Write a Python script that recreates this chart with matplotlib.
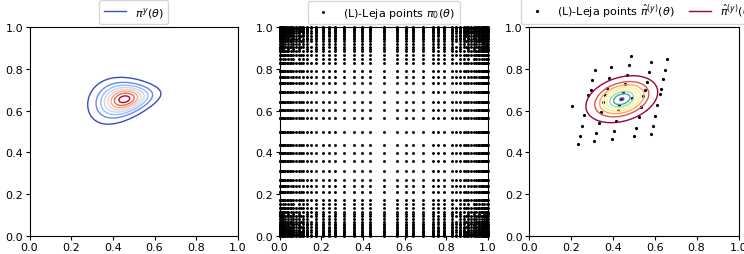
import numpy as np
import matplotlib
matplotlib.use("Agg")
import matplotlib.pyplot as plt

# ---------------- data ----------------
# left panel: skewed posterior pi^y(theta) (mode, spreads, tilt, taper)
post_mode = (0.455, 0.655)
post_sx, post_sy = 0.074, 0.044
post_tilt = 0.15
post_taper = 2.0
post_levels = [0.06, 0.186, 0.311, 0.437, 0.563, 0.689, 0.814, 0.94]

# middle panel: 1D Leja nodes on [0,1] (in Leja order) and total-degree bound
leja_nodes = [0.5, 1.0, 0.0, 0.789, 0.211, 0.933, 0.067, 0.641, 0.359, 0.983,
              0.017, 0.868, 0.132, 0.565, 0.435, 0.735, 0.265, 0.958, 0.042,
              0.905, 0.095, 0.996, 0.004, 0.69, 0.31, 0.827, 0.173, 0.605,
              0.395, 0.972, 0.028, 0.885, 0.115, 0.762, 0.238, 0.945, 0.055,
              0.99, 0.01, 0.92, 0.08, 0.978, 0.022, 0.848, 0.152, 0.965,
              0.035, 0.993, 0.007, 0.951, 0.049, 0.895, 0.105, 0.987, 0.013]
total_degree = 80

# right panel: mapped Leja points
pts_x = [0.486, 0.659, 0.584, 0.313, 0.392, 0.476, 0.648, 0.573, 0.303, 0.382,
         0.467, 0.640, 0.562, 0.294, 0.370, 0.456, 0.630, 0.552, 0.283, 0.362,
         0.449, 0.492, 0.544, 0.624, 0.441, 0.354, 0.430, 0.533, 0.611, 0.203,
         0.344, 0.427, 0.524, 0.603, 0.263, 0.333, 0.417, 0.513, 0.592, 0.252,
         0.322, 0.406, 0.503, 0.581, 0.243, 0.311, 0.397, 0.233]
pts_y = [0.861, 0.846, 0.832, 0.795, 0.808, 0.821, 0.797, 0.785, 0.747, 0.758,
         0.773, 0.750, 0.736, 0.698, 0.710, 0.726, 0.704, 0.701, 0.675, 0.675,
         0.688, 0.662, 0.672, 0.680, 0.656, 0.643, 0.627, 0.616, 0.629, 0.621,
         0.592, 0.605, 0.568, 0.576, 0.578, 0.539, 0.552, 0.518, 0.528, 0.526,
         0.493, 0.502, 0.480, 0.489, 0.478, 0.453, 0.464, 0.440]
# right panel: Gaussian surrogate pi-hat^(y)
sur_mean = (0.443, 0.655)
sur_sx, sur_sy, sur_rho = 0.070, 0.046, 0.30
sur_levels = [0.05, 0.184, 0.319, 0.453, 0.587, 0.721, 0.856, 0.99]

ticks = [0.0, 0.2, 0.4, 0.6, 0.8, 1.0]

# ---------------- figure ----------------
W, H = 744, 255
fig = plt.figure(figsize=(W / 100, H / 100), dpi=100)
fs = 8

def add_ax(left_px, top_px, w_px, h_px):
    return fig.add_axes([left_px / W, 1 - (top_px + h_px) / H, w_px / W, h_px / H])

axes = [add_ax(29.5, 28.3, 208.4, 208.4),
        add_ax(279.5, 28.3, 208.4, 208.4),
        add_ax(529.0, 28.3, 209.5, 208.4)]

for ax in axes:
    ax.set_xlim(0, 1)
    ax.set_ylim(0, 1)
    ax.set_xticks(ticks)
    ax.set_yticks(ticks)
    ax.set_xticklabels([f"{t:.1f}" for t in ticks])
    ax.set_yticklabels([f"{t:.1f}" for t in ticks])
    ax.tick_params(labelsize=fs, length=3, pad=1.5)

g = np.linspace(0, 1, 400)
X, Y = np.meshgrid(g, g)

# left
u = X - post_mode[0]
v = Y - post_mode[1] - post_tilt * u
width = post_sy * np.clip(1 - post_taper * u, 0.05, None)
Q = (u / post_sx) ** 2 + (v / width) ** 2
P = np.exp(-0.5 * Q)
P = P / P.max()
axes[0].contour(X, Y, P, levels=post_levels, cmap="coolwarm", linewidths=1.0)
h0 = plt.Line2D([], [], color=plt.get_cmap("coolwarm")(0.0), lw=1.0)
axes[0].legend([h0], [r"$\pi^y(\theta)$"], loc="lower center",
               bbox_to_anchor=(0.5, 1.0), fontsize=fs, borderaxespad=0.3)

# middle
lx, ly = [], []
n = len(leja_nodes)
for i in range(n):
    for j in range(n):
        if i + j <= total_degree:
            lx.append(leja_nodes[i])
            ly.append(leja_nodes[j])
axes[1].plot(lx, ly, "o", color="black", ms=2.1, mew=0, ls="none",
             label=r"(L)-Leja points $\pi_0(\theta)$", clip_on=False)
axes[1].legend(loc="lower center", bbox_to_anchor=(0.5, 1.0), fontsize=fs,
               borderaxespad=0.3, markerscale=1.0)

# right
cov = np.array([[sur_sx ** 2, sur_rho * sur_sx * sur_sy],
                [sur_rho * sur_sx * sur_sy, sur_sy ** 2]])
ic = np.linalg.inv(cov)
dx = X - sur_mean[0]
dy = Y - sur_mean[1]
Qs = ic[0, 0] * dx ** 2 + 2 * ic[0, 1] * dx * dy + ic[1, 1] * dy ** 2
Ps = np.exp(-0.5 * Qs)
axes[2].plot(pts_x, pts_y, "o", color="black", ms=2.3, mew=0, ls="none",
             label=r"(L)-Leja points $\hat{\pi}^{(y)}(\theta)$")
axes[2].contour(X, Y, Ps, levels=sur_levels, cmap="Spectral", linewidths=1.0)
h2 = plt.Line2D([], [], color=plt.get_cmap("Spectral")(0.0), lw=1.0)
hp = axes[2].get_legend_handles_labels()
axes[2].legend(hp[0] + [h2], hp[1] + [r"$\hat{\pi}^{(y)}(\theta)$"],
               loc="lower center", bbox_to_anchor=(0.53, 1.0), ncol=2,
               fontsize=fs, borderaxespad=0.3, columnspacing=1.3)

fig.savefig("out.png", dpi=100)
